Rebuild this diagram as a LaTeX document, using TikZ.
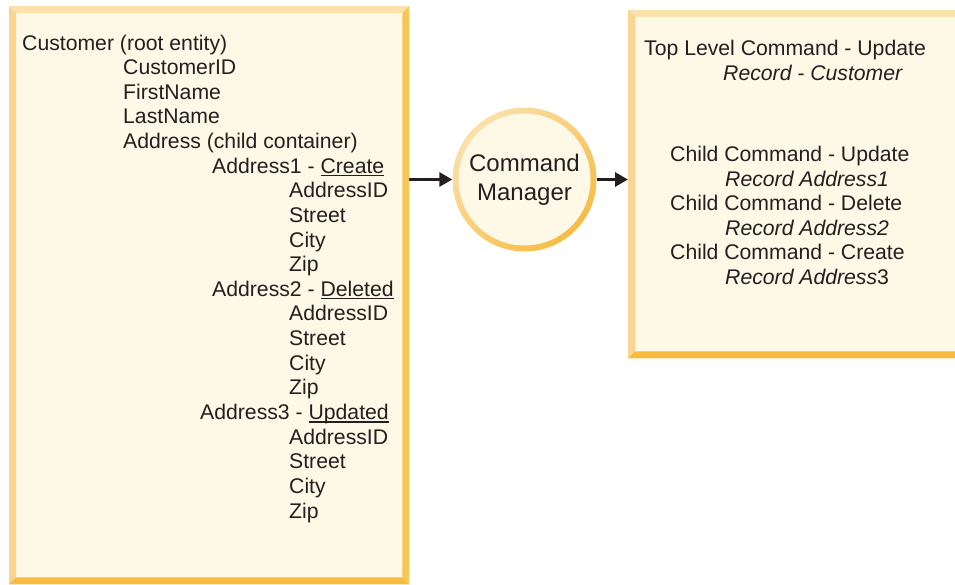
\documentclass[tikz,border=0pt]{standalone}
\usepackage{fontspec}
\setmainfont{Liberation Sans}
\usetikzlibrary{arrows.meta}
\definecolor{boxfill}{HTML}{FEF8E6}
\definecolor{bevtop}{HTML}{FBE1AC}
\definecolor{bevleft}{HTML}{F9D593}
\definecolor{bevright}{HTML}{F8C658}
\definecolor{bevbot}{HTML}{F7BB40}
\definecolor{ringlight}{HTML}{FBE0AA}
\definecolor{ringdark}{HTML}{F7BC45}
\definecolor{ink}{HTML}{231F20}
\newcommand\ulx[1]{\setbox0\hbox{#1}\rlap{\rule[-3pt]{\wd0}{1.2pt}}\box0}
\newcommand\bevelit[1]{%
  \fill[boxfill] (#1.north west) rectangle (#1.south east);
  \fill[bevtop] (#1.north west) -- (#1.north east) -- ([shift={(-7pt,-7pt)}]#1.north east) -- ([shift={(7pt,-7pt)}]#1.north west) -- cycle;
  \fill[bevleft] (#1.north west) -- ([shift={(7pt,-7pt)}]#1.north west) -- ([shift={(7pt,7pt)}]#1.south west) -- (#1.south west) -- cycle;
  \fill[bevright] (#1.north east) -- (#1.south east) -- ([shift={(-7pt,7pt)}]#1.south east) -- ([shift={(-7pt,-7pt)}]#1.north east) -- cycle;
  \fill[bevbot] (#1.south west) -- ([shift={(7pt,7pt)}]#1.south west) -- ([shift={(-7pt,7pt)}]#1.south east) -- (#1.south east) -- cycle;
}
\begin{document}
\begin{tikzpicture}[x=1pt,y=-1pt,
  txt/.style={anchor=base west, inner sep=0pt, text=ink, font=\fontsize{21.2}{24.6}\selectfont},
  itxt/.style={txt, font=\fontsize{21.2}{24.6}\selectfont\itshape},
  bigtxt/.style={anchor=base, inner sep=0pt, text=ink, font=\fontsize{24}{28}\selectfont},
  frame/.style={inner sep=0pt, anchor=north west},
  conn/.style={ink, line width=3pt, -{Triangle[length=13pt,width=14pt]}}]
\useasboundingbox (0,0) rectangle (955,584);
\clip (0,0) rectangle (955,584);
% boxes
\node[frame, minimum width=400pt, minimum height=578pt] (L) at (9,6) {};
\node[frame, minimum width=340pt, minimum height=348pt] (R) at (628,10) {};
\bevelit{L}
\bevelit{R}
% circle
\coordinate (cmc) at (524.5,179.5);
\shade[shading=axis, top color=ringlight, bottom color=ringdark, shading angle=45] (cmc) circle (72pt);
\fill[boxfill] (cmc) circle (66pt);
\node[circle, minimum size=144pt, inner sep=0pt] (cm) at (cmc) {};
\node[bigtxt] (cm1) at ([yshift=7.8pt]cmc) {Command};
\node[bigtxt] (cm2) at ([yshift=-20.5pt]cmc) {Manager};
% connectors
\draw[conn] (cm.west -| L.east) -- (cm.west);
\draw[conn] (cm.east) -- (cm.east -| R.west);
% left text
\node[txt] (l0) at (22,50) {Customer (root entity)};
\node[txt] (l1) at (123,74.6) {CustomerID};
\node[txt] (l2) at (123,99.3) {FirstName};
\node[txt] (l3) at (123,123.9) {LastName};
\node[txt] (l4) at (123,148.5) {Address (child container)};
\node[txt] (l5) at (212,173.2) {Address1 - \ulx{Create}};
\node[txt] (l6) at (289,197.8) {AddressID};
\node[txt] (l7) at (289,222.4) {Street};
\node[txt] (l8) at (289,247.0) {City};
\node[txt] (l9) at (289,271.7) {Zip};
\node[txt] (l10) at (212,296.3) {Address2 - \ulx{Deleted}};
\node[txt] (l11) at (289,320.9) {AddressID};
\node[txt] (l12) at (289,345.6) {Street};
\node[txt] (l13) at (289,370.2) {City};
\node[txt] (l14) at (289,394.8) {Zip};
\node[txt] (l15) at (200,419.5) {Address3 - \ulx{Updated}};
\node[txt] (l16) at (289,444.1) {AddressID};
\node[txt] (l17) at (289,468.7) {Street};
\node[txt] (l18) at (289,493.3) {City};
\node[txt] (l19) at (289,518.0) {Zip};
% right text
\node[txt] (r0) at (644,55) {Top Level Command - Update};
\node[itxt] (r1) at (723,80) {Record - Customer};
\node[txt] (r2) at (670,161.5) {Child Command - Update};
\node[itxt] (r3) at (725,186) {Record Address1};
\node[txt] (r4) at (670,210.5) {Child Command - Delete};
\node[itxt] (r5) at (725,235) {Record Address2};
\node[txt] (r6) at (670,259.5) {Child Command - Create};
\node[itxt] (r7) at (725,284) {Record Address\textup{3}};
\end{tikzpicture}
\end{document}
